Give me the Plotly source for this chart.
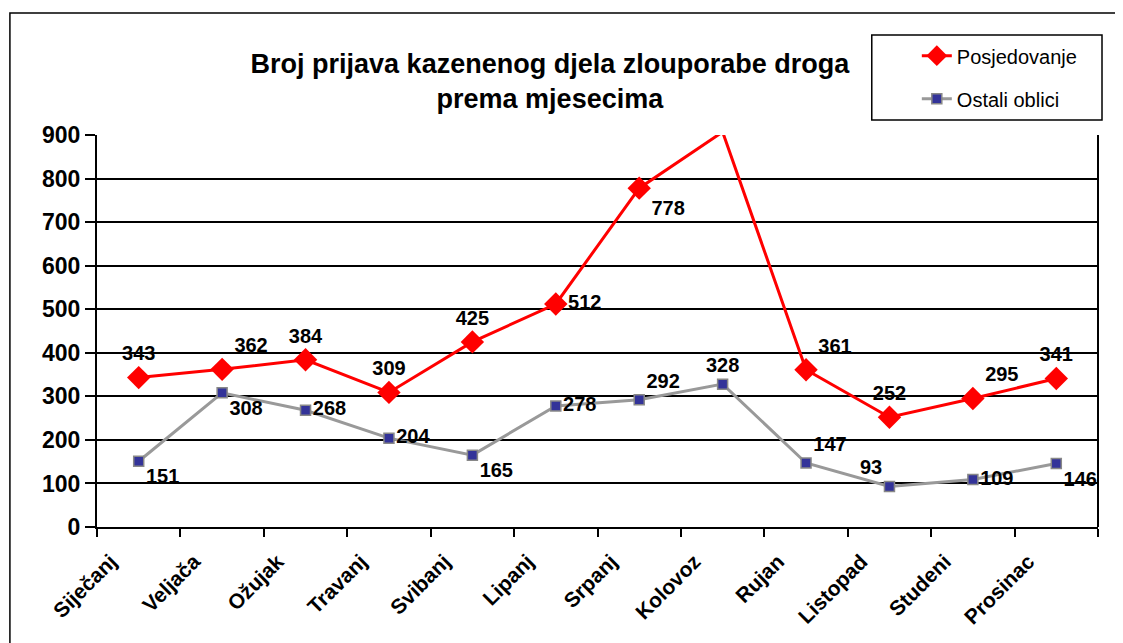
import plotly.graph_objects as go

months = ["Siječanj", "Veljača", "Ožujak", "Travanj", "Svibanj", "Lipanj",
          "Srpanj", "Kolovoz", "Rujan", "Listopad", "Studeni", "Prosinac"]
posjedovanje = [343, 362, 384, 309, 425, 512, 778, 907, 361, 252, 295, 341]
ostali = [151, 308, 268, 204, 165, 278, 292, 328, 147, 93, 109, 146]
y_ticks = [0, 100, 200, 300, 400, 500, 600, 700, 800, 900]

pos_textpos = ["top center", "top right", "top center", "top center", "top center", "middle right",
               "bottom right", "top center", "top right", "top center", "top right", "top center"]
ost_textpos = ["bottom right", "bottom right", "middle right", "middle right", "bottom right", "middle right",
               "top right", "top center", "top right", "top left", "middle right", "bottom right"]

FONT = "Liberation Sans, Arial, sans-serif"

fig = go.Figure()
fig.add_trace(go.Scatter(
    x=months, y=posjedovanje, name="Posjedovanje", mode="lines+markers+text",
    line=dict(color="#FF0000", width=3),
    marker=dict(symbol="diamond", size=18, color="#FF0000"),
    text=[str(v) for v in posjedovanje], textposition=pos_textpos,
    textfont=dict(family=FONT, size=20, color="black", weight="bold"),
    legendgroup="a", cliponaxis=True,
))
fig.add_trace(go.Scatter(
    x=months, y=ostali, name="Ostali oblici", mode="lines+markers+text",
    line=dict(color="#999999", width=3),
    marker=dict(symbol="square", size=10, color="#333399", line=dict(color="#888888", width=1.5)),
    text=[str(v) for v in ostali], textposition=ost_textpos,
    textfont=dict(family=FONT, size=20, color="black", weight="bold"),
    legendgroup="b", cliponaxis=False,
))

fig.update_layout(
    width=1115, height=635,
    margin=dict(l=89, r=25, t=127, b=116),
    paper_bgcolor="white", plot_bgcolor="white",
    font=dict(family=FONT, color="black"),
    title=dict(text="Broj prijava kazenenog djela zlouporabe droga<br>prema mjesecima",
               x=0.486, xanchor="center", y=0.898, yanchor="top",
               font=dict(family=FONT, size=27, color="black", weight="bold")),
    showlegend=True,
    legend=dict(x=0.819, xanchor="left", y=1.252, yanchor="top",
                borderwidth=0, bgcolor="rgba(0,0,0,0)",
                font=dict(family=FONT, size=20, color="black"),
                tracegroupgap=14),
    xaxis=dict(type="category", tickson="boundaries", ticks="outside", ticklen=8,
               tickcolor="black", tickwidth=2, showline=True, linecolor="black", linewidth=2,
               tickangle=-45, showgrid=False, ticklabelshift=-28, ticklabelstandoff=12,
               tickfont=dict(family=FONT, size=21, color="black", weight="bold"),
               range=[-0.5, 11.5]),
    yaxis=dict(range=[0, 900], tickvals=y_ticks, ticks="outside", ticklen=10,
               tickcolor="black", tickwidth=2, showline=True, linecolor="black", linewidth=2,
               showgrid=True, gridcolor="black", gridwidth=2, zeroline=False,
               tickfont=dict(family=FONT, size=23, color="black", weight="bold")),
    shapes=[
        dict(type="rect", xref="paper", yref="paper", x0=-0.087, x1=1.03, y0=-0.35, y1=1.311,
             line=dict(color="black", width=1.5), fillcolor="rgba(0,0,0,0)", layer="below"),
        dict(type="rect", xref="paper", yref="paper", x0=0.774, x1=1.004, y0=1.038, y1=1.255,
             line=dict(color="black", width=1.5), fillcolor="white", layer="below"),
        dict(type="line", xref="paper", yref="paper", x0=1, x1=1, y0=0, y1=1,
             line=dict(color="black", width=2)),
    ],
)

fig.write_html("out.html")
